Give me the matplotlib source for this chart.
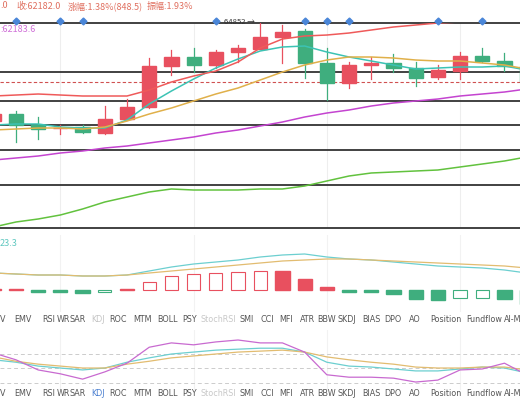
import numpy as np
import matplotlib
matplotlib.use('Agg')
import matplotlib.pyplot as plt
from matplotlib.patches import Rectangle

plt.rcParams['font.family'] = ['Noto Sans CJK SC', 'DejaVu Sans']

# candle data (index 0 is the partially hidden one at the left edge)
opens  = [60446, 60758, 60269, 60113, 60179, 59913, 60536, 61069, 62894, 63295, 62939, 63517, 63651,
          64184, 64452, 63028, 62137, 62939, 63028, 62805, 62404, 62671, 63339, 63117, 62894]
highs  = [60892, 60892, 60624, 60269, 60269, 61114, 61425, 63250, 63606, 63695, 63606, 63828, 64852,
          64718, 64541, 63695, 63072, 63295, 63428, 63072, 62939, 63517, 63695, 63473, 63161]
lows   = [60313, 59512, 59646, 59868, 59913, 59868, 60491, 61025, 62493, 62627, 62805, 63072, 63651,
          63028, 62360, 61381, 61915, 62315, 62627, 62004, 62315, 62315, 63072, 62671, 61381]
closes = [60758, 60269, 60091, 60157, 59957, 60536, 61069, 62894, 63295, 62939, 63517, 63695, 64184,
          64407, 63028, 62137, 62939, 63028, 62805, 62360, 62716, 63339, 63117, 62894, 62182]

ma5   = [60269, 60313, 60313, 60179, 60135, 60135, 60491, 61203, 61781, 62315, 62805, 63206, 63562,
         63740, 63784, 63517, 63295, 63117, 62939, 62761, 62805, 62850, 62850, 62894, 62716]
ma10  = [60046, 60091, 60135, 60135, 60091, 60179, 60446, 60758, 61025, 61337, 61648, 61915, 62271,
         62627, 62939, 63161, 63295, 63295, 63250, 63161, 63117, 63117, 63028, 62939, 62761]
ma20  = [61559, 61603, 61648, 61603, 61559, 61559, 61559, 61826, 62182, 62449, 62671, 63072, 63695,
         64095, 64229, 64273, 64362, 64496, 64630, 64718, 64808, 64852, 64897, 64941, 64897]
ma60  = [58711, 58800, 58889, 59023, 59112, 59245, 59334, 59468, 59601, 59735, 59913, 60046, 60224,
         60402, 60624, 60802, 60936, 61114, 61248, 61337, 61425, 61559, 61648, 61737, 61870]
ma120 = [55730, 55952, 56086, 56264, 56531, 56842, 57064, 57287, 57421, 57376, 57376, 57376, 57421,
         57421, 57554, 57777, 57999, 58133, 58177, 58222, 58266, 58400, 58533, 58667, 58846]

signal_idx = [1, 3, 4, 10, 14, 15, 16, 20, 22]
price_lines = [62627, 61336, 60269, 59156, 57598]

dif  = [170, 160, 150, 150, 140, 140, 150, 190, 230, 260, 280, 300, 330, 350, 360, 330, 310, 300,
        280, 260, 240, 230, 220, 200, 170]
dea  = [170, 160, 150, 150, 140, 140, 150, 170, 190, 210, 230, 250, 270, 290, 300, 310, 310, 300,
        290, 280, 270, 260, 250, 240, 220]
hist = [10, 10, -5, -10, -30, -20, 10, 80, 140, 160, 170, 180, 190, 190, 110, 30, -5, -20,
        -40, -90, -100, -80, -80, -90, -140]
hist_solid = [1, 1, 1, 1, 1, 0, 1, 0, 0, 0, 0, 0, 0, 1, 1, 1, 1, 1, 1, 1, 1, 0, 0, 1, 1]

k_line = [67, 62, 54, 50, 46, 50, 62, 71, 79, 83, 87, 89, 91, 91, 83, 62, 54, 52, 48, 44, 44, 48, 52, 50, 40]
d_line = [73, 64, 58, 54, 50, 50, 58, 64, 71, 75, 79, 83, 85, 87, 83, 73, 67, 62, 58, 52, 50, 50, 52, 52, 46]
j_line = [81, 67, 46, 38, 27, 42, 60, 93, 102, 98, 104, 108, 102, 102, 83, 36, 31, 31, 29, 21, 25, 46, 48, 60, 36]

tabs = ['V', 'EMV', 'RSI', 'WR', 'SAR', 'KDJ', 'ROC', 'MTM', 'BOLL', 'PSY', 'StochRSI', 'SMI', 'CCI',
        'MFI', 'ATR', 'BBW', 'SKDJ', 'BIAS', 'DPO', 'AO', 'Position', 'Fundflow', 'AI-M']
tab_x = [0, 23, 49, 63, 78, 98, 118, 142, 167, 190, 218, 247, 267, 286, 307, 327, 347, 371, 393,
         415, 446, 484, 513]

RED = '#e8505f'
GREEN = '#3fae7e'
W, H = 520, 400
XL = (0.28, 23.70)
idx = np.arange(len(closes))

fig = plt.figure(figsize=(5.2, 4), dpi=100)

def add_ax(top, bottom):
    return fig.add_axes([0, 1 - bottom / H, 1, (bottom - top) / H])

# ---- main price panel
ax = add_ax(23, 228)
ax.set_xlim(*XL)
ax.set_ylim(55685, 64808)
for gx in [3, 9, 15, 21]:
    ax.axvline(gx, color='#eeeeee', lw=0.8, zorder=0)
for p in price_lines:
    ax.axhline(p, color='#333333', lw=1.3, zorder=1)
ax.axhline(62182, color='#d05050', lw=0.8, ls=(0, (3, 2)), zorder=1)

for i in idx:
    c = RED if closes[i] >= opens[i] else GREEN
    ax.plot([i, i], [lows[i], highs[i]], color=c, lw=0.9, zorder=3)
    lo, hi = min(opens[i], closes[i]), max(opens[i], closes[i])
    ax.add_patch(Rectangle((i - 0.32, lo), 0.64, max(hi - lo, 30), color=c, zorder=3))

ax.plot(idx, ma5, color='#3cc3b4', lw=1.1, zorder=4)
ax.plot(idx, ma10, color='#e0b04a', lw=1.1, zorder=4)
ax.plot(idx, ma20, color='#ef5a5a', lw=1.1, zorder=4)
ax.plot(idx, ma60, color='#c444d0', lw=1.1, zorder=4)
ax.plot(idx, ma120, color='#62c23e', lw=1.1, zorder=4)
ax.plot(signal_idx, [64897] * len(signal_idx), 'D', color='#4a86d8', ms=3.5, clip_on=False, zorder=5)
ax.text(11.75, 64852, '64852 →', fontsize=5.5, color='#333333', ha='right', va='center', zorder=5)
for s in ax.spines.values():
    s.set_visible(False)
ax.axhline(64808, color='#333333', lw=1.3, clip_on=False)
ax.axhline(55685, color='#333333', lw=1.3, clip_on=False)
ax.set_xticks([])
ax.set_yticks([])

# ---- MACD panel
ax2 = add_ax(235, 312)
ax2.set_xlim(*XL)
ax2.set_ylim(-220, 550)
for gx in [3, 9, 15, 21]:
    ax2.axvline(gx, color='#f2f2f2', lw=0.8, zorder=0)
ax2.plot(idx, dif, color='#6ccfd0', lw=0.9)
ax2.plot(idx, dea, color='#e2bc70', lw=0.9)
for i in idx:
    c = RED if hist[i] > 0 else GREEN
    h = hist[i] if abs(hist[i]) >= 15 else np.sign(hist[i]) * 15
    if hist_solid[i]:
        ax2.add_patch(Rectangle((i - 0.32, 0), 0.64, h, color=c))
    else:
        ax2.add_patch(Rectangle((i - 0.30, 0), 0.60, h, facecolor='white', edgecolor=c, lw=0.8))
ax2.axis('off')

# ---- KDJ panel
ax3 = add_ax(330, 390)
ax3.set_xlim(*XL)
ax3.set_ylim(4.5, 128.7)
for lv in [80, 50, 20]:
    ax3.axhline(lv, color='#cccccc', lw=0.7, ls=(0, (4, 3)))
for gx in [3, 9, 15, 21]:
    ax3.axvline(gx, color='#f2f2f2', lw=0.8, zorder=0)
ax3.plot(idx, k_line, color='#6ccfd0', lw=0.9)
ax3.plot(idx, d_line, color='#e2bc70', lw=0.9)
ax3.plot(idx, j_line, color='#c86ad0', lw=0.9)
ax3.axis('off')

# ---- texts
fig.text(0 / W, 1 - 6 / H, '.0', fontsize=6.5, color='#e07060', va='center')
fig.text(16 / W, 1 - 6 / H, '收:62182.0', fontsize=6.5, color='#e07060', va='center')
fig.text(68 / W, 1 - 6 / H, '涨幅:1.38%(848.5)', fontsize=6.5, color='#e07060', va='center')
fig.text(147 / W, 1 - 6 / H, '振幅:1.93%', fontsize=6.5, color='#e07060', va='center')
fig.text(0, 1 - 30 / H, ':62183.6', fontsize=6.5, color='#d070d8', va='center')
fig.text(0, 1 - 244 / H, '23.3', fontsize=6.5, color='#60c8c0', va='center')

for row_y, kdj_col in [(320, '#c4c4c4'), (393, '#4a7fd0')]:
    for t, x in zip(tabs, tab_x):
        col = '#555555'
        if t == 'KDJ':
            col = kdj_col
        elif t == 'StochRSI':
            col = '#c8c8c8'
        ha = 'left' if x == 0 else 'center'
        fig.text(x / W, 1 - row_y / H, t, fontsize=5.8, color=col, ha=ha, va='center',
                 family=['DejaVu Sans'])

fig.savefig('out.png', dpi=100)
